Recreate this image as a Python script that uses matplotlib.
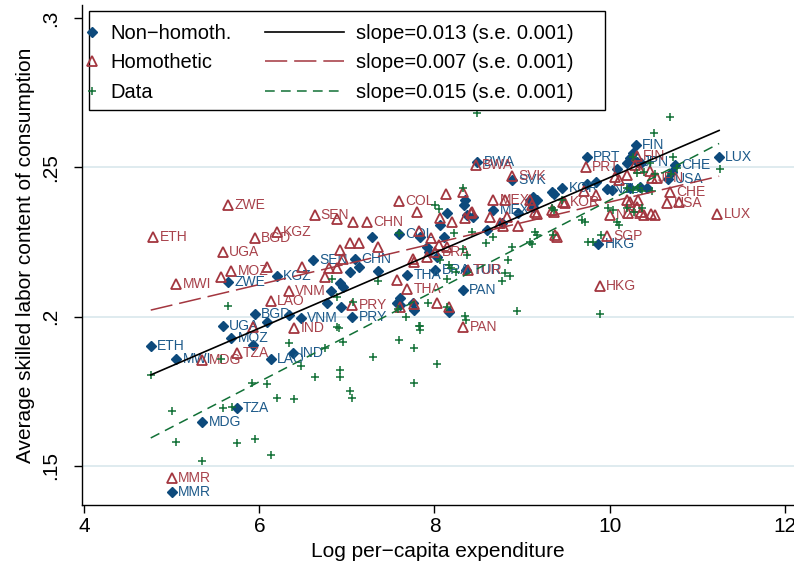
import matplotlib
matplotlib.use('Agg')
import matplotlib.pyplot as plt
from matplotlib.lines import Line2D
from matplotlib.patches import Rectangle
import numpy as np

plt.rcParams['font.family'] = ['Liberation Sans', 'DejaVu Sans']
plt.rcParams['lines.scale_dashes'] = False

# ---------------- data ----------------
# Non-homothetic model
nh_x = [4.76, 5.05, 5.00, 5.35, 5.74, 5.58, 5.68, 5.95, 6.47, 6.13, 6.39, 5.64, 6.20,
        6.61, 7.09, 7.60, 7.69, 8.01, 8.36, 8.32, 7.06, 8.49, 8.89, 8.67, 9.46, 9.74,
        10.30, 10.75, 10.67, 11.25, 9.87, 10.31, 9.97,
        5.93, 6.09, 6.34, 6.82, 6.77, 7.29, 7.14, 7.04, 7.36, 6.92, 6.96, 6.93, 7.84,
        7.94, 7.92, 8.03, 7.61, 7.61, 7.77, 8.17, 7.76, 8.35, 8.34, 8.37, 8.44, 8.14,
        8.06, 8.77, 9.09, 9.13, 8.11, 8.60, 8.95, 9.17, 9.37, 9.34, 9.13, 9.74, 9.84,
        10.03, 10.08, 10.20, 10.23, 10.27, 10.36, 10.35, 10.43, 10.23, 10.71, 7.57]
nh_y = [0.1902, 0.1858, 0.1413, 0.1647, 0.1694, 0.1969, 0.1929, 0.2009, 0.1996, 0.1858,
        0.1878, 0.2116, 0.2136, 0.2190, 0.2193, 0.2277, 0.2140, 0.2156, 0.2156, 0.2089,
        0.1999, 0.2518, 0.2458, 0.2357, 0.2431, 0.2535, 0.2575, 0.2508, 0.2461, 0.2535,
        0.2243, 0.2518, 0.2428,
        0.1905, 0.1982, 0.2006, 0.2086, 0.2046, 0.2267, 0.2166, 0.2150, 0.2153, 0.2113,
        0.2099, 0.2032, 0.2267, 0.2217, 0.2233, 0.2200, 0.2063, 0.2039, 0.2022, 0.2016,
        0.2046, 0.2391, 0.2374, 0.2341, 0.2334, 0.2347, 0.2307, 0.2314, 0.2391, 0.2367,
        0.2267, 0.2290, 0.2347, 0.2391, 0.2411, 0.2418, 0.2401, 0.2444, 0.2451, 0.2424,
        0.2495, 0.2515, 0.2532, 0.2548, 0.2515, 0.2434, 0.2431, 0.2431, 0.2485, 0.2046]
nh_lab = ['ETH', 'MWI', 'MMR', 'MDG', 'TZA', 'UGA', 'MOZ', 'BGD', 'VNM', 'LAO', 'IND',
          'ZWE', 'KGZ', 'SEN', 'CHN', 'COL', 'THA', 'BRA', 'TUR', 'PAN', 'PRY', 'BWA',
          'SVK', 'MEX', 'KOR', 'PRT', 'FIN', 'CHE', 'USA', 'LUX', 'HKG', 'JPN', 'NZL'] + [''] * 50

# Homothetic model
ho_x = [4.79, 5.05, 5.00, 5.35, 5.74, 5.58, 5.68, 5.95, 6.20, 5.64, 6.34, 6.13, 6.40,
        6.63, 7.23, 7.60, 7.69, 8.01, 8.38, 8.33, 7.06, 8.47, 8.89, 8.67, 9.47, 9.73,
        10.31, 10.48, 10.69, 10.66, 11.23, 10.00, 9.97, 9.89,
        5.56, 6.09, 6.49, 6.75, 6.79, 6.89, 5.93, 8.13, 7.80, 6.89, 7.07, 7.04, 7.14,
        7.36, 6.92, 6.96, 7.82, 7.96, 8.05, 8.14, 7.92, 7.76, 8.06, 8.20, 8.35, 8.43,
        8.81, 8.75, 8.63, 7.57, 7.61, 7.77, 8.03, 8.17, 8.33, 9.09, 8.42, 8.83, 8.78,
        8.95, 9.11, 9.17, 9.37, 9.49, 9.71, 9.40, 10.11, 10.23, 10.31, 10.39, 10.52,
        10.34, 10.46, 10.79, 9.34, 9.15, 9.84, 10.06, 10.20, 10.29, 10.54, 10.20, 10.32,
        10.21, 10.36, 10.47, 9.38, 7.77]
ho_y = [0.2267, 0.2110, 0.1460, 0.1855, 0.1878, 0.2217, 0.2153, 0.2264, 0.2284, 0.2374,
        0.2086, 0.2053, 0.1962, 0.2341, 0.2317, 0.2387, 0.2093, 0.2217, 0.2156, 0.1966,
        0.2039, 0.2508, 0.2471, 0.2391, 0.2384, 0.2501, 0.2538, 0.2465, 0.2418, 0.2381,
        0.2344, 0.2341, 0.2270, 0.2103,
        0.2133, 0.2166, 0.2166, 0.2133, 0.2163, 0.2163, 0.1966, 0.2411, 0.2351, 0.2327,
        0.2317, 0.2247, 0.2247, 0.2233, 0.2223, 0.2193, 0.2287, 0.2264, 0.2240, 0.2233,
        0.2200, 0.2193, 0.2331, 0.2317, 0.2331, 0.2351, 0.2391, 0.2314, 0.2334, 0.2123,
        0.2032, 0.2043, 0.2046, 0.2032, 0.2418, 0.2391, 0.2347, 0.2334, 0.2304, 0.2304,
        0.2374, 0.2344, 0.2351, 0.2381, 0.2421, 0.2267, 0.2458, 0.2384, 0.2367, 0.2341,
        0.2341, 0.2498, 0.2488, 0.2384, 0.2357, 0.2351, 0.2408, 0.2468, 0.2475, 0.2508,
        0.2465, 0.2391, 0.2391, 0.2347, 0.2351, 0.2344, 0.2274, 0.2183]
ho_lab = ['ETH', 'MWI', 'MMR', 'MDG', 'TZA', 'UGA', 'MOZ', 'BGD', 'KGZ', 'ZWE', 'VNM',
          'LAO', 'IND', 'SEN', 'CHN', 'COL', 'THA', 'BRA', 'TUR', 'PAN', 'PRY', 'BWA',
          'SVK', 'MEX', 'KOR', 'PRT', 'FIN', 'JPN', 'CHE', 'USA', 'LUX', 'NZL', 'SGP',
          'HKG'] + [''] * 70

# Data
da_x = [4.76, 5.00, 5.05, 5.35, 5.58, 5.69, 5.74, 5.95, 6.13, 5.92, 6.09, 6.20, 6.40,
        6.34, 6.48, 6.63, 5.56, 6.75, 6.91, 6.96, 6.92, 6.92, 7.04, 7.06, 7.30, 7.60,
        7.77, 7.77, 7.82, 8.03, 8.35, 5.64, 8.94, 7.68, 7.58, 7.93, 8.14, 6.89, 7.07,
        7.36, 6.83, 7.60, 8.01, 8.05, 8.22, 8.43, 8.59, 8.67, 8.89, 8.84, 8.81, 8.77,
        8.24, 8.14, 7.84, 8.06, 8.16, 8.37, 8.49, 8.33, 10.69, 10.51, 11.26, 9.17, 9.11,
        9.37, 9.72, 9.75, 9.90, 9.89, 8.36, 7.84, 8.86, 8.19, 8.33, 10.04, 10.11, 10.28,
        10.37, 10.37, 10.48, 10.31, 10.46, 10.52, 10.70, 10.77, 10.27, 10.39, 10.72,
        10.20, 10.27, 10.32, 9.98, 10.20, 10.08, 9.68, 9.46, 9.34, 9.09, 9.15, 9.35,
        9.81, 6.89]
da_y = [0.1805, 0.1684, 0.1580, 0.1517, 0.1694, 0.1698, 0.1577, 0.1590, 0.1537, 0.1778,
        0.1775, 0.1728, 0.1724, 0.1912, 0.1835, 0.1798, 0.1858, 0.1895, 0.1962, 0.1915,
        0.1821, 0.1798, 0.1751, 0.1728, 0.1865, 0.1922, 0.1895, 0.1778, 0.1969, 0.1842,
        0.2002, 0.2036, 0.2019, 0.1999, 0.2026, 0.2046, 0.2032, 0.1966, 0.2049, 0.2120,
        0.2126, 0.2280, 0.2374, 0.2361, 0.2280, 0.2284, 0.2247, 0.2267, 0.2233, 0.2190,
        0.2146, 0.2120, 0.2150, 0.2126, 0.1969, 0.2190, 0.2173, 0.2207, 0.2682, 0.2431,
        0.2669, 0.2615, 0.2495, 0.2274, 0.2243, 0.2357, 0.2317, 0.2250, 0.2274, 0.2009,
        0.1989, 0.1955, 0.2136, 0.2163, 0.2227, 0.2357, 0.2307, 0.2351, 0.2364, 0.2421,
        0.2421, 0.2481, 0.2515, 0.2478, 0.2478, 0.2498, 0.2535, 0.2485, 0.2535, 0.2431,
        0.2424, 0.2431, 0.2364, 0.2364, 0.2317, 0.2324, 0.2391, 0.2364, 0.2250, 0.2284,
        0.2274, 0.2250, 0.2066]

# Fitted lines (slope, intercept)
fit_slope = [0.01262, 0.00691, 0.0152]
fit_icpt = [0.1204, 0.1693, 0.0870]
series_names = ['Non\u2212homoth.', 'Homothetic', 'Data']
fit_names = ['slope=0.013 (s.e. 0.001)', 'slope=0.007 (s.e. 0.001)',
             'slope=0.015 (s.e. 0.001)']
x_ticks = [4, 6, 8, 10, 12]
y_ticks = [0.15, 0.2, 0.25, 0.3]
y_ticklabels = ['.15', '.2', '.25', '.3']

# ---------------- style ----------------
BLUE = '#0d4a7c'
BLUE_T = '#1d5a8a'
RED = '#a3363f'
RED_T = '#a8424b'
GREEN = '#117036'
GRID = '#dce9ee'
AXFS = 15

fig = plt.figure(figsize=(7.94, 5.71), dpi=100)
ax = fig.add_axes([82 / 794, 66 / 571, 712 / 794, 500 / 571])
ax.set_xlim(3.975, 12.105)
ax.set_ylim(0.1369, 0.3044)

for yv in [0.15, 0.2, 0.25]:
    ax.axhline(yv, color=GRID, lw=1.3, zorder=0)

ax.plot(nh_x, nh_y, ls='none', marker='D', ms=5.0, color=BLUE, mec=BLUE, zorder=3)
for x, y, l in zip(nh_x, nh_y, nh_lab):
    if l:
        ax.annotate(l, (x, y), xytext=(4.5, 0), textcoords='offset points',
                    ha='left', va='center', fontsize=10, color=BLUE_T, zorder=3)

ax.plot(ho_x, ho_y, ls='none', marker='^', ms=7, mfc='none', mec=RED, mew=1.3, zorder=4)
for x, y, l in zip(ho_x, ho_y, ho_lab):
    if l:
        ax.annotate(l, (x, y), xytext=(4.5, 0), textcoords='offset points',
                    ha='left', va='center', fontsize=10, color=RED_T, zorder=4)

ax.plot(da_x, da_y, ls='none', marker='+', ms=5.5, mew=1.1, color=GREEN, zorder=5)

xl = np.array([min(nh_x), max(nh_x)])
styles = [dict(color='black', lw=1.2, ls='-'),
          dict(color=RED, lw=1.1, ls=(0, (16, 5))),
          dict(color=GREEN, lw=1.1, ls=(0, (7, 4.5)))]
for s, b, st in zip(fit_slope, fit_icpt, styles):
    ax.plot(xl, b + s * xl, zorder=6, **st)

# axes styling
for sp in ['top', 'right']:
    ax.spines[sp].set_visible(False)
for sp in ['left', 'bottom']:
    ax.spines[sp].set_linewidth(1.0)
ax.set_xticks(x_ticks)
ax.set_yticks(y_ticks)
ax.set_yticklabels(y_ticklabels)
ax.tick_params(direction='out', length=6, width=1, labelsize=AXFS)
ax.tick_params(axis='x', pad=3)
ax.tick_params(axis='y', labelrotation=90, pad=10)
for t in ax.get_yticklabels():
    t.set_va('center')
ax.set_xlabel('Log per\u2212capita expenditure', fontsize=AXFS, labelpad=4)
ax.set_ylabel('Average skilled labor content of consumption', fontsize=AXFS,
              labelpad=4)

# legend
frame = Rectangle((0.0098, 0.79), 0.7248, 0.198, transform=ax.transAxes, fill=True,
                  fc='white', ec='black', lw=1.0, zorder=10)
ax.add_patch(frame)
h1 = [Line2D([], [], ls='none', marker='D', ms=5.0, color=BLUE),
      Line2D([], [], ls='none', marker='^', ms=7, mfc='none', mec=RED, mew=1.3),
      Line2D([], [], ls='none', marker='+', ms=5.5, mew=1.1, color=GREEN)]
leg1 = ax.legend(h1, series_names, loc='upper left', bbox_to_anchor=(0.003, 0.962),
                 frameon=False, fontsize=14.5, handlelength=0.8, handletextpad=0.5,
                 borderpad=0, borderaxespad=0, labelspacing=0.52)
leg1.set_zorder(11)
ax.add_artist(leg1)
h2 = [Line2D([], [], **styles[0]), Line2D([], [], **styles[1]), Line2D([], [], **styles[2])]
leg2 = ax.legend(h2, fit_names, loc='upper left', bbox_to_anchor=(0.257, 0.962),
                 frameon=False, fontsize=14.5, handlelength=3.9, handletextpad=0.6,
                 borderpad=0, borderaxespad=0, labelspacing=0.52)
leg2.set_zorder(11)

fig.savefig('out.png', dpi=100)
